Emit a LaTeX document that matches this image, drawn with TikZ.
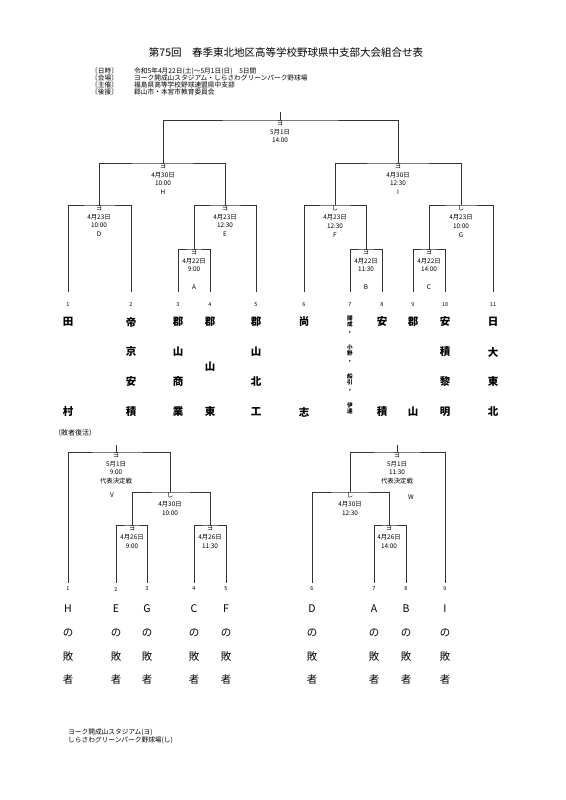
\documentclass[tikz,border=0pt]{standalone}
\usepackage{fontspec}
\setmainfont{Noto Sans CJK JP}
\usetikzlibrary{positioning}

\tikzset{
  bracket/.style={line width=0.65pt, black!80},
  lbl/.style={font=\fontsize{6.4}{8.8}\selectfont, align=center, inner sep=0.7pt, anchor=north},
  num/.style={font=\fontsize{5.5}{6}\selectfont, inner sep=0pt},
  team/.style={font=\bfseries\fontsize{10.5}{11}\selectfont, inner sep=0pt},
  tiny team/.style={font=\bfseries\fontsize{5.6}{6}\selectfont, inner sep=0pt},
  loser/.style={font=\fontsize{10.5}{11}\selectfont, inner sep=0pt},
  info/.style={font=\fontsize{6.7}{7}\selectfont, anchor=west, inner sep=0pt},
}

\begin{document}
\begin{tikzpicture}[x=1pt, y=-1pt]
  \useasboundingbox (0,0) rectangle (565,800);

  \node[font=\fontsize{10.5}{12}\selectfont] (title) at (286,52) {第75回　春季東北地区高等学校野球県中支部大会組合せ表};
  \node[info] (h1) at (91,71) {〔日時〕};
  \node[info] (h2) at (91,78) {〔会場〕};
  \node[info] (h3) at (91,85) {〔主催〕};
  \node[info] (h4) at (91,92) {〔後援〕};
  \node[info] (v1) at (134,71) {令和5年4月22日(土)～5月1日(日)　5日間};
  \node[info] (v2) at (134,78) {ヨーク開成山スタジアム・しらさわグリーンパーク野球場};
  \node[info] (v3) at (134,85) {福島県高等学校野球連盟県中支部};
  \node[info] (v4) at (134,92) {郡山市・本宮市教育委員会};

  \foreach \i/\x in {1/68,2/131,3/178,4/210,5/256,6/304,7/350,8/382,9/413,10/445,11/493} {
    \coordinate (t\i) at (\x,292);
    \node[num] (n\i) at (\x,305) {\i};
  }
  \coordinate (mA) at (194,249);
  \coordinate (mB) at (366,249);
  \coordinate (mC) at (429,249);
  \coordinate (mD) at (99,205);
  \coordinate (mE) at (225,205);
  \coordinate (mF) at (335,205);
  \coordinate (mG) at (461,205);
  \coordinate (mH) at (163,163);
  \coordinate (mI) at (398,163);
  \coordinate (mTop) at (280,120);
  \coordinate (top) at (280,112);

  \draw[bracket] (t1) |- (mD) -| (t2);
  \draw[bracket] (t3) |- (mA) -| (t4);
  \draw[bracket] (mA) |- (mE) -| (t5);
  \draw[bracket] (t7) |- (mB) -| (t8);
  \draw[bracket] (t6) |- (mF) -| (mB);
  \draw[bracket] (t9) |- (mC) -| (t10);
  \draw[bracket] (mC) |- (mG) -| (t11);
  \draw[bracket] (mD) |- (mH) -| (mE);
  \draw[bracket] (mF) |- (mI) -| (mG);
  \draw[bracket] (mH) |- (mTop) -| (mI);
  \draw[bracket] (mTop) -- (top);

  \node[lbl] (lA) at (mA) {ヨ\\4月22日\\9:00};
  \node[lbl] (lB) at (mB) {ヨ\\4月22日\\11:30};
  \node[lbl] (lC) at (mC) {ヨ\\4月22日\\14:00};
  \node[lbl] (lD) at (mD) {ヨ\\4月23日\\10:00\\D};
  \node[lbl] (lE) at (mE) {ヨ\\4月23日\\12:30\\E};
  \node[lbl] (lF) at (mF) {し\\4月23日\\12:30\\F};
  \node[lbl] (lG) at (mG) {し\\4月23日\\10:00\\G};
  \node[lbl] (lH) at (mH) {ヨ\\4月30日\\10:00\\H};
  \node[lbl] (lI) at (mI) {ヨ\\4月30日\\12:30\\I};
  \node[lbl] (lTop) at (mTop) {ヨ\\5月1日\\14:00};
  \node[lbl, anchor=center] (kA) at (194,287) {A};
  \node[lbl, anchor=center] (kB) at (366,287) {B};
  \node[lbl, anchor=center] (kC) at (429,287) {C};

  \foreach \i/\x/\a/\b/\c/\d in {1/68/田/{}/{}/村, 2/131/帝/京/安/積, 3/178/郡/山/商/業,
      5/256/郡/山/北/工, 6/304/尚/{}/{}/志, 8/382/安/{}/{}/積, 9/413/郡/{}/{}/山,
      10/445/安/積/黎/明, 11/493/日/大/東/北} {
    \node[team] (s\i a) at (\x,322) {\a};
    \node[team] (s\i b) at (\x,352) {\b};
    \node[team] (s\i c) at (\x,382) {\c};
    \node[team] (s\i d) at (\x,412) {\d};
  }
  \node[team] (s4a) at (210,322) {郡};
  \node[team] (s4b) at (210,367) {山};
  \node[team] (s4d) at (210,412) {東};
  \foreach \ch/\y [count=\k] in {開/318.5,成/324.5,・/333,小/347,野/353,・/362,船/376,引/382,・/391,伊/405,達/411}
    \node[tiny team] (s7-\k) at (350,\y) {\ch};

  \node[font=\fontsize{7}{8}\selectfont, anchor=west, inner sep=0pt] (rev) at (54,433) {（敗者復活）};

  \foreach \i/\x in {1/68,2/116,3/147,4/194,5/226,6/312,7/374,8/406,9/445} {
    \coordinate (u\i) at (\x,583);
    \node[num] (m\i) at (\x,589) {\i};
  }
  \coordinate (mJ) at (132,525);
  \coordinate (mK) at (210,525);
  \coordinate (mL) at (170,492);
  \coordinate (mV) at (116,452);
  \coordinate (topV) at (116,445);
  \coordinate (mN) at (389,525);
  \coordinate (mM) at (350,492);
  \coordinate (mW) at (397,452);
  \coordinate (topW) at (397,445);

  \draw[bracket] (u2) |- (mJ) -| (u3);
  \draw[bracket] (u4) |- (mK) -| (u5);
  \draw[bracket] (mJ) |- (mL) -| (mK);
  \draw[bracket] (u1) |- (mV) -| (mL);
  \draw[bracket] (mV) -- (topV);
  \draw[bracket] (u7) |- (mN) -| (u8);
  \draw[bracket] (u6) |- (mM) -| (mN);
  \draw[bracket] (mM) |- (mW) -| (u9);
  \draw[bracket] (mW) -- (topW);

  \node[lbl] (lJ) at (mJ) {ヨ\\4月26日\\9:00};
  \node[lbl] (lK) at (mK) {ヨ\\4月26日\\11:30};
  \node[lbl] (lL) at (mL) {し\\4月30日\\10:00};
  \node[lbl] (lV) at (mV) {ヨ\\5月1日\\9:00\\代表決定戦};
  \node[lbl] (lN) at (mN) {ヨ\\4月26日\\14:00};
  \node[lbl] (lM) at (mM) {し\\4月30日\\12:30};
  \node[lbl] (lW) at (mW) {ヨ\\5月1日\\11:30\\代表決定戦};
  \node[lbl, anchor=center] (kV) at (112,495) {V};
  \node[lbl, anchor=center] (kW) at (411,497) {W};

  \foreach \i/\x/\g in {1/68/H,2/116/E,3/147/G,4/194/C,5/226/F,6/312/D,7/374/A,8/406/B,9/445/I} {
    \node[loser] (r\i a) at (\x,609) {\g};
    \node[loser] (r\i b) at (\x,633) {の};
    \node[loser] (r\i c) at (\x,657) {敗};
    \node[loser] (r\i d) at (\x,680) {者};
  }

  \node[info] (f1) at (68,732) {ヨーク開成山スタジアム(ヨ)};
  \node[info] (f2) at (68,740) {しらさわグリーンパーク野球場(し)};
\end{tikzpicture}
\end{document}
